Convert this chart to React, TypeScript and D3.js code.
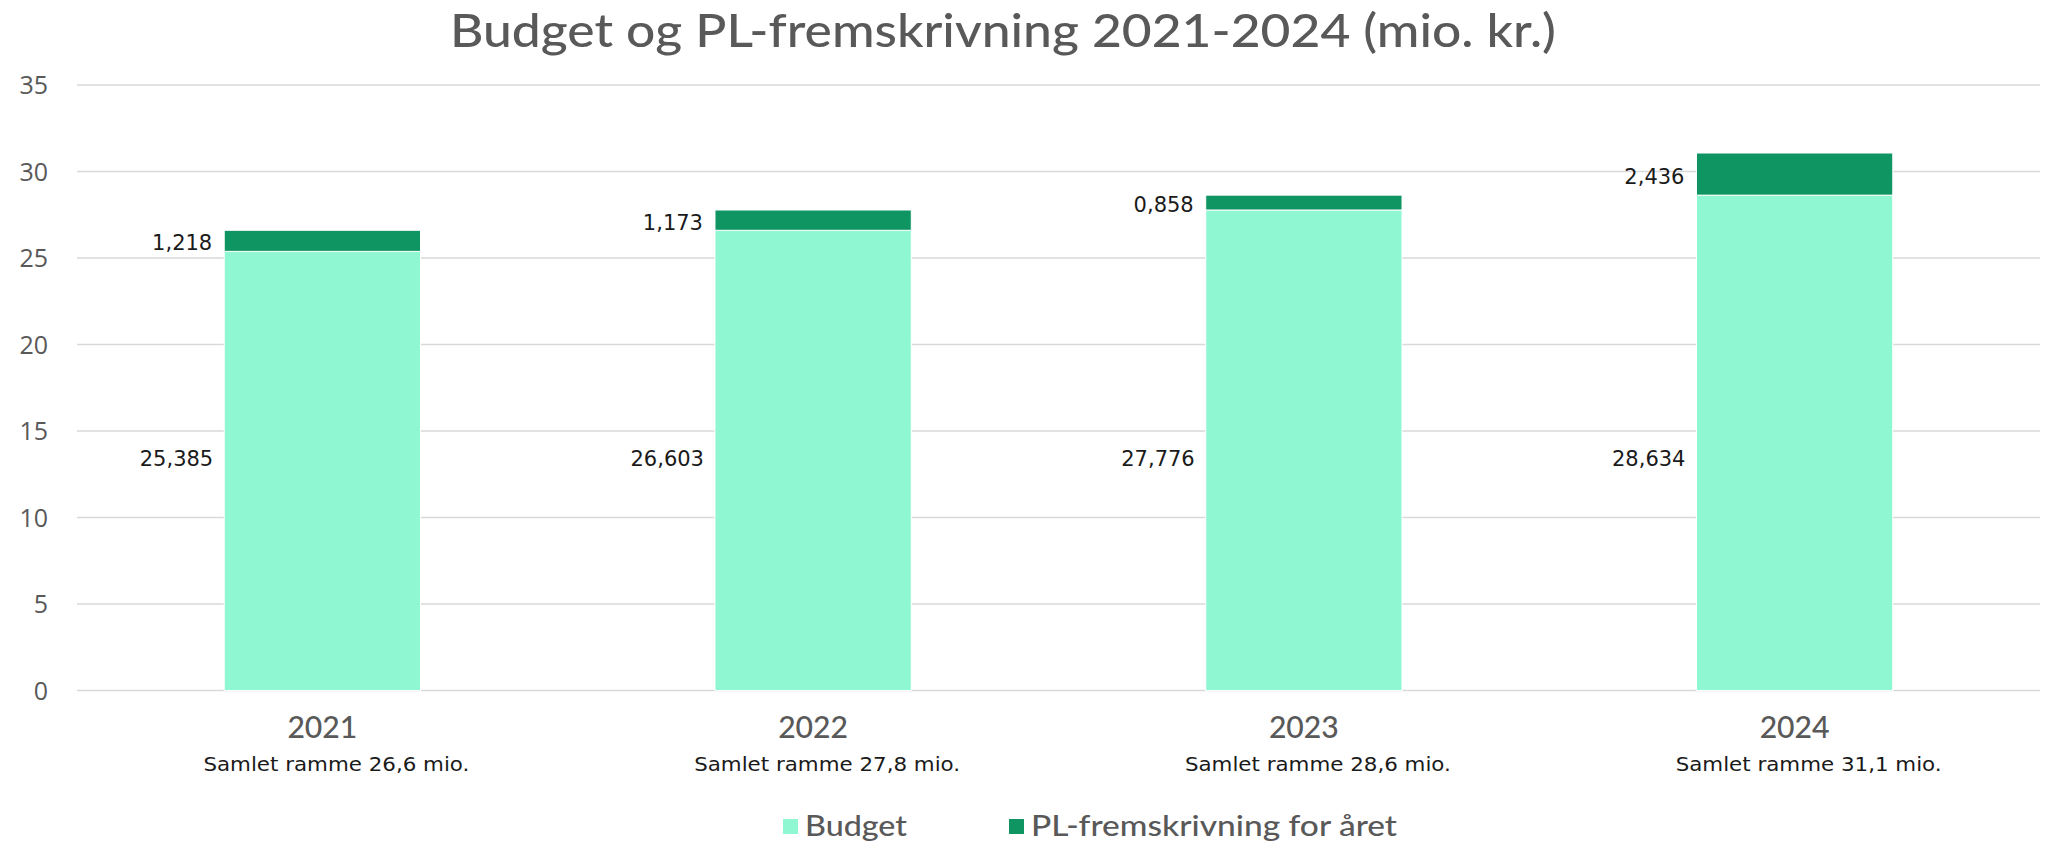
import React from "react";
import * as d3 from "d3";

const years = ["2021", "2022", "2023", "2024"];
const budget = [25.385, 26.603, 27.776, 28.634];
const plFrem = [1.218, 1.173, 0.858, 2.436];
const budgetLabels = ["25,385", "26,603", "27,776", "28,634"];
const plLabels = ["1,218", "1,173", "0,858", "2,436"];
const totalLabels = [
  "Samlet ramme 26,6 mio.",
  "Samlet ramme 27,8 mio.",
  "Samlet ramme 28,6 mio.",
  "Samlet ramme 31,1 mio.",
];
const yTicks = [0, 5, 10, 15, 20, 25, 30, 35];
const seriesNames = ["Budget", "PL-fremskrivning for året"];
const colors = ["#90F7D3", "#0E9562"];
const title = "Budget og PL-fremskrivning 2021-2024 (mio. kr.)";

const W = 2047;
const H = 843;
const FONT = "'Open Sans', Lato, 'DejaVu Sans', sans-serif";
const TITLE_FONT = "Lato, 'Open Sans', sans-serif";
const LABEL_FONT = "'DejaVu Sans', 'Open Sans', sans-serif";

export default function App() {
  const x = d3
    .scaleBand<string>()
    .domain(years)
    .range([77, 2040])
    .paddingInner(0.6)
    .paddingOuter(0.3);
  const y = d3.scaleLinear().domain([0, 35]).range([690.6, 85]);

  const rows = years.map((yr, i) => ({
    yr,
    b: budget[i],
    p: plFrem[i],
    bl: budgetLabels[i],
    pl: plLabels[i],
    tl: totalLabels[i],
  }));

  const bw = x.bandwidth();

  return (
    <svg
      width={W}
      height={H}
      style={{ position: "absolute", left: 0, top: 0, background: "#fff" }}
      fontFamily={FONT}
    >
      <text
        x={1003}
        y={47}
        textAnchor="middle"
        fontSize={46}
        fontWeight={500}
        fontFamily={TITLE_FONT}
        fill="#595959"
        textLength={1106}
        lengthAdjust="spacingAndGlyphs"
      >
        {title}
      </text>

      {yTicks.map((t) => (
        <g key={t}>
          <line x1={77} x2={2040} y1={y(t)} y2={y(t)} stroke="#d9d9d9" strokeWidth={1.5} />
          <text
            x={48}
            y={y(t)}
            dy="0.36em"
            textAnchor="end"
            fontSize={25}
            fill="#595959"
          >
            {t}
          </text>
        </g>
      ))}

      {rows.map((r) => {
        const x0 = x(r.yr)!;
        const cx = x0 + bw / 2;
        return (
          <g key={r.yr}>
            <rect
              x={x0}
              width={bw}
              y={y(r.b)}
              height={y(0) - y(r.b)}
              fill={colors[0]}
              stroke="#ffffff"
              strokeWidth={1}
            />
            <rect
              x={x0}
              width={bw}
              y={y(r.b + r.p)}
              height={y(r.b) - y(r.b + r.p)}
              fill={colors[1]}
              stroke="#ffffff"
              strokeWidth={1}
            />
            <text
              x={x0 - 11}
              y={y(13.4)}
              dy="0.36em"
              textAnchor="end"
              fontSize={21}
              fontFamily={LABEL_FONT}
              fill="#1a1a1a"
            >
              {r.bl}
            </text>
            <text
              x={x0 - 12}
              y={(y(r.b) + y(r.b + r.p)) / 2 + 2}
              dy="0.36em"
              textAnchor="end"
              fontSize={21}
              fontFamily={LABEL_FONT}
              fill="#1a1a1a"
            >
              {r.pl}
            </text>
            <text
              x={cx}
              y={727}
              dy="0.36em"
              textAnchor="middle"
              fontSize={30}
              fontWeight={500}
              fontFamily={TITLE_FONT}
              fill="#595959"
              textLength={70}
              lengthAdjust="spacingAndGlyphs"
            >
              {r.yr}
            </text>
            <text
              x={cx + 14}
              y={764}
              dy="0.36em"
              textAnchor="middle"
              fontSize={20}
              fontFamily={LABEL_FONT}
              fill="#1a1a1a"
              textLength={266}
              lengthAdjust="spacingAndGlyphs"
            >
              {r.tl}
            </text>
          </g>
        );
      })}

      <g>
        <rect x={783} y={819} width={15} height={15} fill={colors[0]} />
        <text
          x={805}
          y={826}
          dy="0.36em"
          fontSize={28}
          fontWeight={500}
          fontFamily={TITLE_FONT}
          fill="#595959"
          textLength={102}
          lengthAdjust="spacingAndGlyphs"
        >
          {seriesNames[0]}
        </text>
        <rect x={1009} y={819} width={15} height={15} fill={colors[1]} />
        <text
          x={1031}
          y={826}
          dy="0.36em"
          fontSize={28}
          fontWeight={500}
          fontFamily={TITLE_FONT}
          fill="#595959"
          textLength={366}
          lengthAdjust="spacingAndGlyphs"
        >
          {seriesNames[1]}
        </text>
      </g>
    </svg>
  );
}
